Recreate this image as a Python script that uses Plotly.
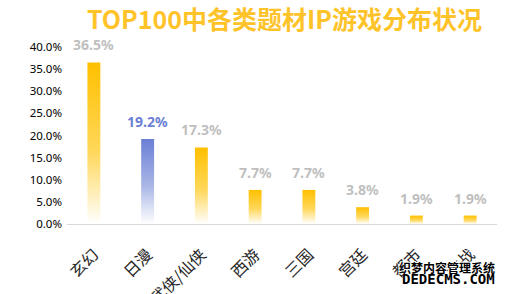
import plotly.graph_objects as go

categories = ["玄幻", "日漫", "武侠/仙侠", "西游", "三国", "宫廷", "都市", "抗战"]
values = [0.365, 0.192, 0.173, 0.077, 0.077, 0.038, 0.019, 0.019]
labels = ["36.5%", "19.2%", "17.3%", "7.7%", "7.7%", "3.8%", "1.9%", "1.9%"]
highlight = [False, True, False, False, False, False, False, False]
y_ticks = [0, 0.05, 0.10, 0.15, 0.20, 0.25, 0.30, 0.35, 0.40]

GOLD = "#FFC000"
BLUE = "#6B7FD6"
HALF = 0.12

fig = go.Figure()
for i, (v, hl) in enumerate(zip(values, highlight)):
    top = BLUE if hl else GOLD
    mid = "#A9B6E6" if hl else "#FFD75A"
    fig.add_trace(go.Scatter(
        x=[i - HALF, i + HALF, i + HALF, i - HALF, i - HALF],
        y=[0, 0, v, v, 0],
        mode="lines", line=dict(width=0),
        fill="toself",
        fillgradient=dict(type="vertical",
                          colorscale=[[0, "rgba(255,255,255,1)"], [0.45, mid], [1, top]]),
        hoverinfo="skip", showlegend=False,
    ))

value_annotations = [
    dict(x=i, y=v, text=t, xref="x", yref="y", showarrow=False,
         yanchor="bottom", yshift=6,
         font=dict(family="Noto Sans", size=14, weight="bold",
                   color=BLUE if h else "#BFBFBF"))
    for i, (v, t, h) in enumerate(zip(values, labels, highlight))
]

fig.update_layout(
    width=508, height=294,
    margin=dict(l=67, r=11, t=47, b=70),
    paper_bgcolor="white", plot_bgcolor="white",
    xaxis=dict(range=[-0.5, len(categories) - 0.5], tickmode="array",
               tickvals=list(range(len(categories))), ticktext=categories,
               tickangle=-45, showgrid=False, zeroline=False, automargin=False,
               showline=True, linecolor="#D9D9D9", linewidth=1, ticks="",
               ticklabelstandoff=14,
               tickfont=dict(family="Noto Sans CJK SC", size=16, color="#262626")),
    yaxis=dict(range=[0, 0.4], tickvals=y_ticks, tickformat=".1%", automargin=False,
               showgrid=False, zeroline=False, showline=False, ticks="",
               ticklabelstandoff=4,
               tickfont=dict(family="Noto Sans", size=11.5, color="#000000")),
    annotations=value_annotations + [
        dict(text="TOP100中各类题材IP游戏分布状况", xref="paper", yref="paper",
             x=0.5, y=1, xshift=2, yshift=29, yanchor="middle", showarrow=False,
             font=dict(family="Noto Sans CJK SC", size=25, weight="bold", color="#FFC32A")),
        dict(text="织梦内容管理系统", xref="paper", yref="paper", x=1.0, y=0,
             xanchor="right", yanchor="middle", yshift=-43, showarrow=False,
             font=dict(family="Noto Sans CJK SC", size=12, weight="bold", color="#000000",
                       shadow="1px 1px 0 white, -1px -1px 0 white, 1px -1px 0 white, -1px 1px 0 white")),
        dict(text="DEDECMS.COM", xref="paper", yref="paper", x=1.0, y=0,
             xanchor="right", yanchor="middle", yshift=-55, showarrow=False,
             font=dict(family="DejaVu Sans Mono", size=14, weight="bold", color="#000000",
                       shadow="1px 1px 0 white")),
    ],
)

fig.write_html("out.html")
